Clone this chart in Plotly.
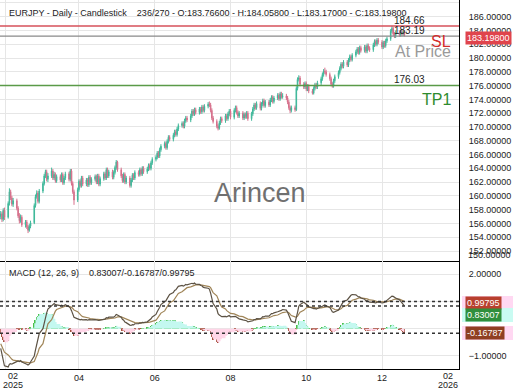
import numpy as np
import pandas as pd
import plotly.graph_objects as go
from plotly.subplots import make_subplots

# ---------------- data ----------------
dates = pd.bdate_range("2025-01-28", "2025-12-19")

opens = [157.0, 157.4, 156.6, 157.9,
         156.9, 158.9, 160.6, 159.7, 158.8,
         159.3, 158.2, 157.1, 156.4, 156.9,
         155.8, 156.2, 155.5, 155.0, 155.6,
         156.1, 158.6, 159.9, 160.4, 159.2,
         160.7, 161.8, 162.9, 163.5, 162.4,
         162.9, 163.6, 162.6, 163.1, 162.2,
         162.8, 162.3, 163.1, 161.9, 162.6,
         163.2, 162.4, 163.6, 161.8, 160.6,
         159.4, 160.9, 162.1, 161.5, 162.6,
         161.7, 162.3, 161.6, 162.7, 161.9,
         162.4, 162.8, 162.0, 162.9, 161.7,
         162.5, 163.2, 162.6, 163.8, 162.9,
         163.5, 162.7, 163.4, 164.1, 164.9,
         163.8, 162.9, 162.2, 163.1, 162.0,
         162.6, 161.5, 162.3, 163.0, 162.6,
         163.4, 163.1, 163.8, 163.2, 164.0,
         163.5, 163.9, 164.4, 164.0, 164.8,
         165.3, 165.6, 166.2, 165.8, 166.7,
         167.2, 167.6, 167.0, 167.9, 168.5,
         168.2, 168.8, 169.3, 168.9, 169.7,
         170.2, 170.5, 170.1, 170.9, 171.3,
         171.0, 171.6, 172.3, 171.9, 172.5,
         172.1, 172.6, 172.2, 172.9, 172.4,
         173.0, 173.3, 173.2, 172.4, 171.3,
         170.8, 170.1, 169.8, 170.6, 171.2,
         170.9, 171.6, 171.2, 171.9, 172.3,
         171.4, 172.4, 172.8, 172.1, 171.6,
         172.0, 171.3, 171.8, 171.5, 172.0,
         171.2, 171.9, 172.6, 173.2, 172.8,
         173.4, 172.7, 173.3, 173.8, 173.1,
         173.6, 173.2, 173.9, 174.3, 173.7,
         174.2, 174.6, 174.1, 174.8, 174.4,
         174.5, 174.2, 173.6, 172.8, 172.4,
         172.8, 172.5, 175.6, 176.9, 177.1,
         176.2, 175.8, 176.3, 175.5, 175.9,
         175.2, 174.9, 175.6, 176.1, 175.8,
         176.4, 177.0, 177.6, 178.1, 178.0,
         177.6, 177.0, 176.2, 175.9, 176.7,
         177.3, 177.9, 178.5, 179.1, 178.8,
         179.4, 179.0, 179.7, 180.2, 179.8,
         180.4, 180.9, 181.3, 180.8, 181.5,
         181.1, 181.6, 181.0, 181.8, 181.4,
         181.2, 181.9, 182.4, 182.0, 182.6,
         182.3, 181.6, 182.2, 181.8, 182.5,
         182.8, 183.9, 184.3, 183.5, 183.2,
         183.7, 183.4, 183.8, 183.5, 183.766]

highs = [157.8, 157.7, 158.2, 158.3,
         159.2, 161.1, 160.9, 160.0, 159.7,
         159.6, 158.5, 157.5, 157.3, 157.2,
         156.5, 156.5, 155.8, 155.9, 156.4,
         158.9, 160.2, 160.8, 160.7, 161.0,
         162.1, 163.2, 163.8, 163.8, 163.3,
         164.1, 163.9, 163.5, 163.4, 163.1,
         163.1, 163.4, 163.4, 162.9, 163.5,
         163.5, 163.9, 163.9, 162.1, 160.9,
         161.2, 162.4, 162.4, 162.9, 162.9,
         162.6, 162.6, 163.0, 163.0, 162.7,
         163.1, 163.1, 163.2, 163.2, 162.8,
         163.5, 163.5, 164.1, 164.1, 163.8,
         163.8, 163.7, 164.4, 165.2, 165.1,
         164.1, 163.2, 163.4, 163.4, 162.9,
         162.9, 162.6, 163.3, 163.3, 163.7,
         163.7, 164.1, 164.1, 164.3, 164.3,
         164.2, 164.7, 164.7, 165.1, 165.6,
         165.9, 166.5, 166.5, 167.0, 167.5,
         167.9, 167.9, 168.2, 168.8, 168.8,
         169.1, 169.6, 169.6, 170.0, 170.5,
         170.8, 170.8, 171.2, 171.6, 171.6,
         171.9, 172.6, 172.6, 172.8, 172.8,
         172.9, 172.9, 173.2, 173.2, 173.3,
         173.6, 173.7, 173.5, 172.7, 171.6,
         171.1, 170.4, 170.9, 171.5, 171.5,
         171.9, 171.9, 172.2, 172.6, 172.6,
         172.7, 173.1, 173.1, 172.4, 172.3,
         172.3, 172.1, 172.1, 172.3, 172.3,
         172.2, 172.9, 173.5, 173.5, 173.7,
         173.7, 173.6, 174.1, 174.1, 173.9,
         173.9, 174.2, 174.6, 174.6, 174.5,
         174.9, 174.9, 175.1, 175.1, 174.9,
         174.8, 174.5, 173.9, 173.1, 173.1,
         173.1, 175.9, 177.2, 177.5, 177.4,
         176.5, 176.6, 176.6, 176.2, 176.2,
         175.5, 175.9, 176.4, 176.4, 176.7,
         177.3, 177.9, 178.4, 178.6, 178.3,
         177.9, 177.3, 176.5, 177.0, 177.6,
         178.2, 178.8, 179.4, 179.4, 179.7,
         179.7, 180.0, 180.5, 180.5, 180.7,
         181.2, 181.6, 181.6, 181.8, 181.8,
         181.9, 181.9, 182.1, 182.1, 181.7,
         182.2, 182.7, 182.7, 182.9, 182.9,
         182.6, 182.5, 182.5, 182.8, 183.1,
         184.2, 184.66, 184.5, 183.8, 184.0,
         184.0, 184.1, 184.1, 184.0, 184.058]

lows = [156.6, 156.2, 156.3, 156.5,
        156.7, 158.6, 159.4, 158.5, 158.4,
        157.9, 156.8, 156.0, 156.1, 155.5,
        155.4, 155.2, 154.6, 154.8, 155.3,
        155.9, 158.3, 159.6, 158.9, 158.9,
        160.4, 161.5, 162.6, 162.1, 162.0,
        162.6, 162.3, 162.3, 161.9, 161.9,
        162.0, 162.0, 161.6, 161.6, 162.3,
        162.1, 162.1, 161.5, 160.3, 158.7,
        159.1, 160.6, 161.2, 161.2, 161.4,
        161.4, 161.3, 161.3, 161.6, 161.6,
        162.1, 161.7, 161.7, 161.4, 161.4,
        162.2, 162.3, 162.3, 162.6, 162.6,
        162.4, 162.4, 163.1, 163.8, 163.5,
        162.6, 161.9, 161.9, 161.7, 161.7,
        161.2, 161.2, 162.0, 162.3, 162.3,
        162.8, 162.8, 162.9, 162.9, 163.2,
        163.2, 163.6, 163.7, 163.7, 164.5,
        165.0, 165.3, 165.5, 165.5, 166.4,
        166.9, 166.7, 166.7, 167.6, 167.9,
        167.9, 168.5, 168.6, 168.6, 169.4,
        169.9, 169.8, 169.8, 170.6, 170.7,
        170.7, 171.3, 171.6, 171.6, 171.8,
        171.8, 171.9, 171.9, 172.1, 172.1,
        172.7, 172.9, 172.1, 171.0, 170.5,
        169.8, 169.5, 169.6, 170.3, 170.6,
        170.6, 170.9, 170.9, 171.6, 171.1,
        171.1, 172.1, 171.8, 171.3, 171.3,
        171.0, 171.0, 171.2, 171.2, 170.9,
        170.9, 171.6, 172.3, 172.5, 172.5,
        172.4, 172.4, 173.0, 172.8, 172.8,
        172.9, 172.9, 173.6, 173.4, 173.4,
        173.9, 173.8, 173.8, 174.1, 174.1,
        173.9, 173.3, 172.5, 172.0, 172.1,
        172.2, 172.3, 175.3, 176.6, 175.9,
        175.5, 175.5, 175.2, 175.2, 174.9,
        174.7, 174.7, 175.3, 175.5, 175.5,
        176.1, 176.7, 177.3, 177.7, 177.3,
        176.7, 175.9, 175.7, 175.7, 176.4,
        177.0, 177.6, 178.2, 178.5, 178.5,
        178.7, 178.7, 179.4, 179.5, 179.5,
        180.1, 180.6, 180.5, 180.5, 180.8,
        180.8, 180.7, 180.7, 181.1, 180.9,
        180.9, 181.6, 181.7, 181.7, 182.0,
        181.3, 181.3, 181.5, 181.5, 182.2,
        182.5, 183.6, 183.2, 182.9, 182.9,
        183.1, 183.1, 183.2, 183.2, 183.17]

closes = [157.4, 156.6, 157.9, 156.9,
          158.9, 160.6, 159.7, 158.8, 159.3,
          158.2, 157.1, 156.4, 156.9, 155.8,
          156.2, 155.5, 155.0, 155.6, 156.1,
          158.6, 159.9, 160.4, 159.2, 160.7,
          161.8, 162.9, 163.5, 162.4, 162.9,
          163.6, 162.6, 163.1, 162.2, 162.8,
          162.3, 163.1, 161.9, 162.6, 163.2,
          162.4, 163.6, 161.8, 160.6, 159.4,
          160.9, 162.1, 161.5, 162.6, 161.7,
          162.3, 161.6, 162.7, 161.9, 162.4,
          162.8, 162.0, 162.9, 161.7, 162.5,
          163.2, 162.6, 163.8, 162.9, 163.5,
          162.7, 163.4, 164.1, 164.9, 163.8,
          162.9, 162.2, 163.1, 162.0, 162.6,
          161.5, 162.3, 163.0, 162.6, 163.4,
          163.1, 163.8, 163.2, 164.0, 163.5,
          163.9, 164.4, 164.0, 164.8, 165.3,
          165.6, 166.2, 165.8, 166.7, 167.2,
          167.6, 167.0, 167.9, 168.5, 168.2,
          168.8, 169.3, 168.9, 169.7, 170.2,
          170.5, 170.1, 170.9, 171.3, 171.0,
          171.6, 172.3, 171.9, 172.5, 172.1,
          172.6, 172.2, 172.9, 172.4, 173.0,
          173.3, 173.2, 172.4, 171.3, 170.8,
          170.1, 169.8, 170.6, 171.2, 170.9,
          171.6, 171.2, 171.9, 172.3, 171.4,
          172.4, 172.8, 172.1, 171.6, 172.0,
          171.3, 171.8, 171.5, 172.0, 171.2,
          171.9, 172.6, 173.2, 172.8, 173.4,
          172.7, 173.3, 173.8, 173.1, 173.6,
          173.2, 173.9, 174.3, 173.7, 174.2,
          174.6, 174.1, 174.8, 174.4, 174.5,
          174.2, 173.6, 172.8, 172.4, 172.8,
          172.5, 175.6, 176.9, 177.1, 176.2,
          175.8, 176.3, 175.5, 175.9, 175.2,
          174.9, 175.6, 176.1, 175.8, 176.4,
          177.0, 177.6, 178.1, 178.0, 177.6,
          177.0, 176.2, 175.9, 176.7, 177.3,
          177.9, 178.5, 179.1, 178.8, 179.4,
          179.0, 179.7, 180.2, 179.8, 180.4,
          180.9, 181.3, 180.8, 181.5, 181.1,
          181.6, 181.0, 181.8, 181.4, 181.2,
          181.9, 182.4, 182.0, 182.6, 182.3,
          181.6, 182.2, 181.8, 182.5, 182.8,
          183.9, 184.3, 183.5, 183.2, 183.7,
          183.4, 183.8, 183.5, 183.766, 183.198]

macd_line = [-0.72, -0.95, -1.18, -1.36,
             -1.40, -1.30, -1.28, -1.30, -1.27,
             -1.22, -1.18, -1.20, -1.17, -1.22,
             -1.26, -1.30, -1.33, -1.30, -1.22,
             -1.00, -0.78, -0.55, -0.40, -0.18,
             0.00, 0.22, 0.42, 0.58, 0.72,
             0.86, 0.90, 0.92, 0.88, 0.87,
             0.84, 0.86, 0.83, 0.84, 0.88,
             0.80, 0.76, 0.66, 0.55, 0.42,
             0.36, 0.35, 0.32, 0.34, 0.32,
             0.33, 0.31, 0.33, 0.31, 0.32,
             0.33, 0.31, 0.32, 0.30, 0.31,
             0.36, 0.35, 0.40, 0.39, 0.42,
             0.40, 0.42, 0.46, 0.52, 0.50,
             0.42, 0.34, 0.31, 0.24, 0.22,
             0.13, 0.12, 0.15, 0.14, 0.18,
             0.18, 0.21, 0.20, 0.23, 0.22,
             0.25, 0.29, 0.30, 0.36, 0.43,
             0.52, 0.62, 0.68, 0.78, 0.88,
             0.98, 1.02, 1.10, 1.20, 1.25,
             1.32, 1.40, 1.42, 1.48, 1.55,
             1.58, 1.56, 1.58, 1.62, 1.60,
             1.63, 1.66, 1.64, 1.67, 1.63,
             1.62, 1.58, 1.57, 1.52, 1.50,
             1.48, 1.45, 1.30, 1.10, 0.92,
             0.72, 0.55, 0.50, 0.48, 0.44,
             0.45, 0.43, 0.46, 0.48, 0.43,
             0.44, 0.45, 0.42, 0.37, 0.36,
             0.32, 0.31, 0.28, 0.29, 0.25,
             0.26, 0.29, 0.33, 0.33, 0.37,
             0.36, 0.39, 0.44, 0.43, 0.46,
             0.46, 0.50, 0.55, 0.55, 0.58,
             0.62, 0.63, 0.66, 0.67, 0.70,
             0.68, 0.60, 0.48, 0.34, 0.27,
             0.22, 0.38, 0.60, 0.82, 0.88,
             0.97, 0.94, 0.88, 0.86, 0.80,
             0.74, 0.73, 0.74, 0.72, 0.74,
             0.78, 0.82, 0.85, 0.87, 0.84,
             0.78, 0.70, 0.62, 0.60, 0.62,
             0.68, 0.76, 0.86, 0.92, 1.00,
             1.05, 1.12, 1.20, 1.22, 1.25,
             1.24, 1.20, 1.16, 1.16, 1.12,
             1.08, 1.02, 1.03, 1.00, 0.97,
             0.96, 0.95, 0.94, 0.97, 0.98,
             0.94, 0.95, 0.96, 1.00, 1.04,
             1.13, 1.19, 1.18, 1.14, 1.12,
             1.06, 1.00, 0.95, 0.90, 0.83007]

signal_line = [-0.55, -0.65, -0.76, -0.86,
               -0.96, -1.03, -1.08, -1.12, -1.15,
               -1.17, -1.17, -1.18, -1.18, -1.19,
               -1.20, -1.22, -1.24, -1.25, -1.25,
               -1.20, -1.11, -0.99, -0.87, -0.72,
               -0.55, -0.36, -0.17, 0.02, 0.18,
               0.33, 0.46, 0.56, 0.64, 0.70,
               0.74, 0.77, 0.79, 0.80, 0.82,
               0.82, 0.81, 0.78, 0.74, 0.68,
               0.62, 0.56, 0.51, 0.47, 0.44,
               0.42, 0.40, 0.39, 0.37, 0.36,
               0.35, 0.34, 0.34, 0.33, 0.33,
               0.34, 0.34, 0.35, 0.36, 0.37,
               0.37, 0.38, 0.39, 0.41, 0.43,
               0.43, 0.41, 0.39, 0.37, 0.35,
               0.31, 0.27, 0.25, 0.23, 0.22,
               0.21, 0.21, 0.21, 0.21, 0.21,
               0.22, 0.23, 0.24, 0.25, 0.28,
               0.31, 0.37, 0.43, 0.50, 0.57,
               0.65, 0.73, 0.80, 0.88, 0.95,
               1.02, 1.10, 1.16, 1.23, 1.29,
               1.35, 1.39, 1.43, 1.47, 1.50,
               1.53, 1.55, 1.57, 1.59, 1.60,
               1.61, 1.60, 1.60, 1.59, 1.57,
               1.56, 1.54, 1.50, 1.42, 1.32,
               1.20, 1.07, 0.96, 0.87, 0.79,
               0.72, 0.66, 0.62, 0.59, 0.56,
               0.54, 0.52, 0.50, 0.48, 0.46,
               0.44, 0.41, 0.39, 0.37, 0.35,
               0.33, 0.32, 0.32, 0.32, 0.33,
               0.34, 0.35, 0.36, 0.37, 0.38,
               0.40, 0.42, 0.44, 0.46, 0.48,
               0.50, 0.52, 0.55, 0.57, 0.59,
               0.61, 0.61, 0.58, 0.53, 0.48,
               0.43, 0.42, 0.46, 0.53, 0.60,
               0.67, 0.73, 0.76, 0.78, 0.79,
               0.78, 0.77, 0.76, 0.75, 0.75,
               0.76, 0.77, 0.78, 0.79, 0.80,
               0.80, 0.78, 0.75, 0.72, 0.70,
               0.69, 0.70, 0.73, 0.77, 0.81,
               0.85, 0.90, 0.95, 1.00, 1.04,
               1.08, 1.10, 1.12, 1.13, 1.13,
               1.12, 1.10, 1.09, 1.07, 1.05,
               1.04, 1.02, 1.00, 0.99, 0.99,
               0.98, 0.97, 0.97, 0.98, 0.99,
               1.01, 1.04, 1.06, 1.08, 1.09,
               1.08, 1.06, 1.04, 1.02, 0.99795]

sl_level = 184.66
at_price_level = 183.19
tp1_level = 176.03
last_price = 183.198
macd_last = 0.83007
hist_last = -0.16787
signal_last = 0.99795

month_ticks = ["2025-02-01", "2025-04-01", "2025-06-01", "2025-08-01",
               "2025-10-01", "2025-12-01", "2026-02-01"]
month_labels = ["", "04", "06", "08", "10", "12", ""]

title_text = ("EURJPY - Daily - Candlestick&nbsp;&nbsp;&nbsp;&nbsp;236/270 - O:183.76600 - "
              "H:184.05800 - L:183.17000 - C:183.19800")
macd_title = "MACD (12, 26, 9)&nbsp;&nbsp;&nbsp;&nbsp;0.83007/-0.16787/0.99795"

# ---------------- derived ----------------
macd_arr = np.array(macd_line)
sig_arr = np.array(signal_line)
hist = macd_arr - sig_arr

W, H = 520, 390
ML, MR, MT, MB = 0, 61, 0, 21
PW, PH = W - ML - MR, H - MT - MB
main_h = 261
def px(p):
    return p / PW
def py(p):
    return 1 - p / PH

UP = "#3fb89a"
DOWN = "#d6708b"
FONT = "Liberation Sans, Arial, sans-serif"

fig = make_subplots(rows=2, cols=1, shared_xaxes=True, vertical_spacing=0,
                    row_heights=[main_h / PH, 1 - main_h / PH])

fig.add_trace(go.Candlestick(
    x=dates, open=opens, high=highs, low=lows, close=closes,
    increasing=dict(line=dict(color=UP, width=1), fillcolor=UP),
    decreasing=dict(line=dict(color=DOWN, width=1), fillcolor=DOWN),
    whiskerwidth=0, showlegend=False, hoverinfo="skip"), row=1, col=1)

# histogram envelopes
fig.add_trace(go.Scatter(x=dates, y=np.maximum(hist, 0), mode="lines",
                         line=dict(width=0, shape="hv"), fill="tozeroy",
                         fillcolor="#c4f8f0", showlegend=False, hoverinfo="skip"),
              row=2, col=1)
fig.add_trace(go.Scatter(x=dates, y=np.minimum(hist, 0), mode="lines",
                         line=dict(width=0, shape="hv"), fill="tozeroy",
                         fillcolor="#ffd6e8", showlegend=False, hoverinfo="skip"),
              row=2, col=1)
fig.add_trace(go.Bar(x=dates, y=hist,
                     marker=dict(color=["#49c049" if h >= 0 else "#a34f3a" for h in hist],
                                 line=dict(width=0)),
                     width=0.9 * 86400000, showlegend=False, hoverinfo="skip"),
              row=2, col=1)
fig.add_trace(go.Scatter(x=dates, y=signal_line, mode="lines",
                         line=dict(color="#a08558", width=1.2),
                         showlegend=False, hoverinfo="skip"), row=2, col=1)
fig.add_trace(go.Scatter(x=dates, y=macd_line, mode="lines",
                         line=dict(color="#5c5244", width=1.2),
                         showlegend=False, hoverinfo="skip"), row=2, col=1)

x_range = ["2025-01-27 10:00", "2026-02-01"]
grid = "#e6e6e6"
fig.update_xaxes(range=x_range, tickvals=month_ticks, ticktext=month_labels,
                 showgrid=True, gridcolor=grid, gridwidth=1, zeroline=False,
                 rangeslider_visible=False, showline=True, linecolor="#000",
                 linewidth=1, ticks="", tickfont=dict(size=9, color="#222", family=FONT))
fig.update_xaxes(showticklabels=False, row=1, col=1)

fig.update_yaxes(side="right", range=[150.55, 188.42], dtick=2, tick0=0,
                 tickformat=".5f", showgrid=True, gridcolor=grid, zeroline=False,
                 showline=True, linecolor="#000", linewidth=1, ticks="",
                 ticklabelstandoff=7,
                 tickfont=dict(size=9, color="#222", family=FONT), row=1, col=1)
fig.update_yaxes(side="right", range=[-1.476, 2.476], dtick=1, tick0=0,
                 tickformat=".5f", showgrid=True, gridcolor=grid, zeroline=False,
                 showline=True, linecolor="#000", linewidth=1, ticks="",
                 ticklabelstandoff=7,
                 tickfont=dict(size=9, color="#222", family=FONT), row=2, col=1)

shapes = []
# price level lines
for lvl, col, wd in [(sl_level, "#d6505a", 1.5), (at_price_level, "#8a8a8a", 1.2),
                     (tp1_level, "#5a9a48", 1.5)]:
    shapes.append(dict(type="line", xref="x domain", yref="y", x0=0, x1=1,
                       y0=lvl, y1=lvl, line=dict(color=col, width=wd)))
# MACD dotted levels
for lvl in [signal_last, macd_last, hist_last]:
    shapes.append(dict(type="line", xref="x2 domain", yref="y2", x0=0, x1=1,
                       y0=lvl, y1=lvl, line=dict(color="#333", width=1.5, dash="dot")))

annotations = []
def ann(text, x, y, size=9, color="#222", xanchor="left", yanchor="middle", **kw):
    annotations.append(dict(text=text, x=px(x), y=py(y), xref="paper", yref="paper",
                            showarrow=False, xanchor=xanchor, yanchor=yanchor,
                            font=dict(size=size, color=color, family=FONT), **kw))

ann(title_text, 7, 13)
ann(macd_title, 7, 273)
ann("Arincen", 260, 193, size=27, color="#707070", xanchor="center")

# level texts
for lvl, txt, ys in [(sl_level, "184.66", -2), (at_price_level, "183.19", -2),
                     (tp1_level, "176.03", -2)]:
    annotations.append(dict(text=txt, x=px(409), y=lvl, xref="paper", yref="y",
                            yanchor="bottom", yshift=ys, xanchor="center",
                            showarrow=False,
                            font=dict(size=10, color="#222", family=FONT)))
ann("SL", 453, 41, size=16, color="#d42b2b", xanchor="right")
ann("At Price", 453, 52, size=16, color="#9a9a9a", xanchor="right")
ann("TP1", 453, 100, size=16, color="#2e8b2e", xanchor="right")

# bottom axis end labels
ann("02", 13, 376, xanchor="center")
ann("2025", 13, 385, xanchor="center")
ann("02", 448, 376, xanchor="center")
ann("2026", 448, 385, xanchor="center")
ann("150.00000", 466, 255)

# right side value boxes
def box(text, y, bg, halo, fg="#ffffff"):
    shapes.append(dict(type="rect", xref="paper", yref="paper", x0=px(462), x1=px(513),
                       y0=py(y + 7), y1=py(y - 7), line=dict(width=0), fillcolor=halo))
    annotations.append(dict(text=text, x=px(465), y=py(y), xref="paper", yref="paper",
                            showarrow=False, xanchor="left", yanchor="middle",
                            bgcolor=bg, borderpad=1,
                            font=dict(size=9, color=fg, family=FONT)))

ann("183.19800", 465, 38, color="#ffffff", bgcolor="#e0444c", borderpad=1)
box("0.99795", 303, "#b8402e", "#ffd8f2")
box("0.83007", 315, "#2f8f3c", "#c9fbf2")
box("-0.16787", 333, "#8f3f22", "#ffd8f2")

fig.update_layout(width=W, height=H, margin=dict(l=ML, r=MR, t=MT, b=MB),
                  paper_bgcolor="white", plot_bgcolor="white",
                  showlegend=False, hovermode=False, bargap=0,
                  shapes=shapes, annotations=annotations,
                  font=dict(family=FONT, size=9, color="#222"))

fig.write_html("out.html", config={"displayModeBar": False},
               post_script="document.body.style.margin='0px';"
                           "document.body.style.padding='0px';"
                           "document.body.style.overflow='hidden';")
